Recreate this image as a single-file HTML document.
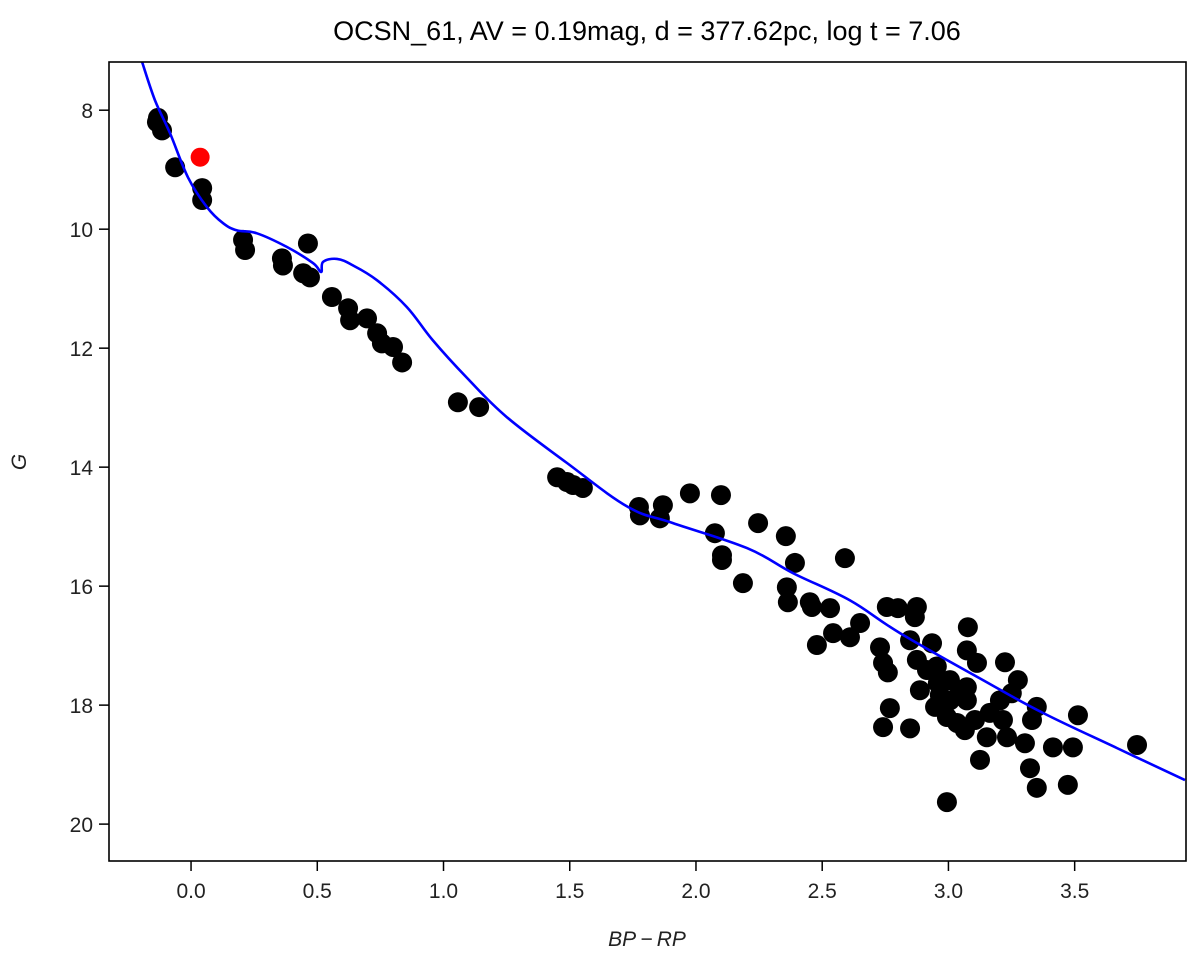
<!DOCTYPE html>
<html><head><meta charset="utf-8"><style>
body{margin:0;background:#fff}
svg{display:block;font-family:"Liberation Sans","DejaVu Sans",sans-serif}
</style></head><body>
<svg id="chart" width="1200" height="957"></svg>
<script>
const starColor=[-0.131,-0.135,-0.115,-0.063,0.044,0.044,0.206,0.214,0.360,0.364,0.463,0.444,0.471,0.558,0.622,0.630,0.697,0.737,0.756,0.800,0.836,1.057,1.141,1.450,1.489,1.513,1.552,1.774,1.778,1.869,1.857,1.976,2.099,2.075,2.103,2.103,2.186,2.246,2.356,2.392,2.590,2.360,2.364,2.451,2.459,2.531,2.479,2.543,2.610,2.650,2.756,2.800,2.875,2.867,3.077,2.729,2.741,2.760,2.848,2.935,2.875,2.915,2.958,3.073,3.113,3.224,3.275,3.251,3.350,3.331,3.513,2.768,2.741,2.848,2.947,2.994,3.034,3.073,3.073,3.164,3.216,3.152,3.232,3.303,3.414,3.493,3.747,3.125,3.323,3.350,3.473,2.994,3.006,2.954,3.006,3.046,3.105,3.065,2.966,2.887,3.204];
const starMag=[8.13,8.20,8.34,8.96,9.31,9.51,10.18,10.35,10.49,10.61,10.24,10.74,10.81,11.14,11.33,11.53,11.50,11.75,11.92,11.98,12.24,12.91,12.99,14.17,14.25,14.30,14.35,14.67,14.81,14.64,14.86,14.44,14.47,15.11,15.48,15.56,15.95,14.94,15.16,15.61,15.53,16.02,16.27,16.27,16.35,16.37,16.99,16.79,16.86,16.62,16.35,16.37,16.35,16.52,16.69,17.03,17.29,17.45,16.91,16.96,17.24,17.41,17.63,17.08,17.29,17.28,17.58,17.80,18.03,18.25,18.17,18.05,18.37,18.39,18.03,18.20,18.30,17.92,17.70,18.13,18.25,18.54,18.54,18.64,18.71,18.71,18.67,18.92,19.06,19.39,19.34,19.63,17.92,17.35,17.58,17.75,18.25,18.42,17.83,17.75,17.92];
const redColor=[0.036];
const redMag=[8.79];
const isoColor=[-0.194,-0.143,-0.083,-0.012,0.063,0.127,0.182,0.261,0.380,0.483,0.515,0.523,0.578,0.642,0.737,0.855,0.958,1.093,1.251,1.489,1.731,1.909,2.202,2.384,2.610,2.808,3.137,3.374,3.667,3.937];
const isoMag=[7.19,7.83,8.39,9.13,9.63,9.90,10.02,10.07,10.30,10.57,10.72,10.55,10.50,10.61,10.86,11.31,11.87,12.50,13.16,13.93,14.67,14.94,15.36,15.78,16.24,16.79,17.58,18.13,18.72,19.26];
const xTicks=[0.0,0.5,1.0,1.5,2.0,2.5,3.0,3.5];
const yTicks=[8,10,12,14,16,18,20];

const L=109,R=1186,T=62,B=861;
const xMin=-0.325,xMax=3.941,yMin=7.19,yMax=20.62;
const sx=v=>L+(v-xMin)/(xMax-xMin)*(R-L);
const sy=v=>T+(v-yMin)/(yMax-yMin)*(B-T);
const NS="http://www.w3.org/2000/svg";
const svg=document.getElementById('chart');
function mk(tag,attrs,parent){const e=document.createElementNS(NS,tag);for(const k in attrs)e.setAttribute(k,attrs[k]);(parent||svg).appendChild(e);return e;}

const clip=mk('clipPath',{id:'plotclip'});
mk('rect',{x:L,y:T,width:R-L,height:B-T},clip);

const title=mk('text',{x:647,y:40,'font-size':27,'text-anchor':'middle',fill:'#000'});
title.textContent='OCSN_61, AV = 0.19mag, d = 377.62pc, log t = 7.06';



const gStars=mk('g',{'clip-path':'url(#plotclip)'});


for(let i=0;i<starColor.length;i++){
  const c=mk('circle',{cx:sx(starColor[i]),cy:sy(starMag[i]),r:10,fill:'#000'},gStars);
  
  
}
const P=isoColor.map((c,i)=>[sx(c),sy(isoMag[i])]);
let d='M'+P[0][0].toFixed(1)+','+P[0][1].toFixed(1);
for(let i=0;i<P.length-1;i++){
  const p0=P[Math.max(i-1,0)],p1=P[i],p2=P[i+1],p3=P[Math.min(i+2,P.length-1)];
  const k=0.18;
  const c1=[p1[0]+(p2[0]-p0[0])*k,p1[1]+(p2[1]-p0[1])*k];
  const c2=[p2[0]-(p3[0]-p1[0])*k,p2[1]-(p3[1]-p1[1])*k];
  d+='C'+c1.map(v=>v.toFixed(1)).join(',')+' '+c2.map(v=>v.toFixed(1)).join(',')+' '+p2.map(v=>v.toFixed(1)).join(',');
}
const iso=mk('path',{d:d,fill:'none',stroke:'#0000ff','stroke-width':2.6,'stroke-linejoin':'round','clip-path':'url(#plotclip)'});


for(let i=0;i<redColor.length;i++){
  const c=mk('circle',{cx:sx(redColor[i]),cy:sy(redMag[i]),r:9.5,fill:'#ff0000'});
  
  
}

const frame=mk('rect',{x:L,y:T,width:R-L,height:B-T,fill:'none',stroke:'#000','stroke-width':1.6});



xTicks.forEach(v=>{
  const x=sx(v);
  const t=mk('line',{x1:x,x2:x,y1:B,y2:B+10,stroke:'#000','stroke-width':1.5});
  
  
  const lb=mk('text',{x:x,y:B+37,'font-size':21,'text-anchor':'middle',fill:'#222'});
  lb.textContent=v.toFixed(1);
  
  
});
yTicks.forEach(v=>{
  const y=sy(v);
  const t=mk('line',{x1:L-10,x2:L,y1:y,y2:y,stroke:'#000','stroke-width':1.5});
  
  
  const lb=mk('text',{x:L-16,y:y+8,'font-size':21,'text-anchor':'end',fill:'#222'});
  lb.textContent=String(v);
  
  
});
const xl=mk('text',{x:647,y:946,'font-size':21,'text-anchor':'middle','font-style':'italic',fill:'#222'});
xl.textContent='BP\u2009\u2212\u2009RP';


const yl=mk('text',{x:0,y:0,'font-size':21,'text-anchor':'middle','font-style':'italic',fill:'#222',transform:'translate(26,462) rotate(-90)'});
yl.textContent='G';


</script>
</body></html>
